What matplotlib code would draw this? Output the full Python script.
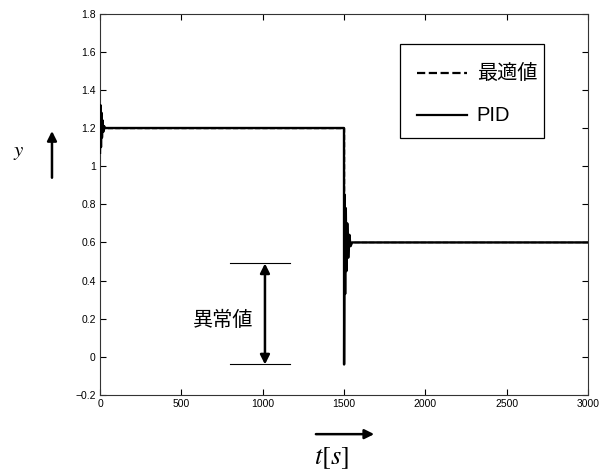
import numpy as np
from matplotlib import pyplot as plt
from matplotlib.patches import Rectangle, FancyArrowPatch

plt.rcParams['font.family'] = ['Liberation Sans', 'DejaVu Sans']
plt.rcParams['mathtext.fontset'] = 'stix'
JP = ['Liberation Sans', 'Noto Sans CJK JP', 'DejaVu Sans']

# PID response (transients near switching times)
t_pid = [0, 3, 6, 9, 12, 16, 20, 25, 30, 1500, 1500.5, 1503, 1507, 1511, 1515,
         1520, 1526, 1533, 1540, 1550, 3000]
y_pid = [1.07, 1.32, 1.10, 1.28, 1.15, 1.24, 1.18, 1.21, 1.20, 1.20, -0.04, 0.85,
         0.33, 0.78, 0.45, 0.70, 0.52, 0.64, 0.58, 0.60, 0.60]

# optimum (step)
t_opt = [0, 1500, 1500, 3000]
y_opt = [1.2, 1.2, 0.6, 0.6]

labels = ['最適値', 'PID']

xticks = [0, 500, 1000, 1500, 2000, 2500, 3000]
yticks = [-0.2, 0, 0.2, 0.4, 0.6, 0.8, 1, 1.2, 1.4, 1.6, 1.8]
ytick_labels = ['\u22120.2', '0', '0.2', '0.4', '0.6', '0.8', '1', '1.2', '1.4', '1.6', '1.8']

# anomaly annotation
anom_lo, anom_hi = -0.04, 0.49
anom_x0, anom_x1, anom_xa = 800, 1170, 1014

fig = plt.figure(figsize=(6.08, 4.75), dpi=100)
ax = fig.add_axes([0.1645, 0.1684, 0.8026, 0.803])

ax.plot(t_opt, y_opt, '--', color='black', lw=1.0, zorder=2)
ax.plot(t_pid, y_pid, '-', color='black', lw=1.7, zorder=3)

ax.set_xlim(0, 3000)
ax.set_ylim(-0.2, 1.8)
ax.set_xticks(xticks)
ax.set_yticks(yticks)
ax.set_yticklabels(ytick_labels)
ax.tick_params(direction='in', length=4, labelsize=7.5, top=True, right=True, pad=3)
for s in ax.spines.values():
    s.set_color('#333333')
    s.set_linewidth(0.8)

# annotation lines + double arrow
ax.plot([anom_x0, anom_x1], [anom_hi, anom_hi], color='black', lw=0.8)
ax.plot([anom_x0, anom_x1], [anom_lo, anom_lo], color='black', lw=0.8)
ax.annotate('', xy=(anom_xa, anom_hi), xytext=(anom_xa, anom_lo),
            arrowprops=dict(arrowstyle='<|-|>', color='black', lw=1.8,
                            mutation_scale=14, shrinkA=0, shrinkB=0))
ax.text(755, 0.19, '異常値', fontsize=14.5, ha='center', va='center', family=JP)

# legend drawn by hand (axes fraction)
ax.add_patch(Rectangle((0.615, 0.674), 0.295, 0.246, transform=ax.transAxes,
                       fill=True, facecolor='white', edgecolor='black', lw=0.9, zorder=5))
for yy, ls, lab in [(0.844, '--', labels[0]), (0.734, '-', labels[1])]:
    ax.plot([0.650, 0.752], [yy, yy], ls, color='black', lw=1.6,
            transform=ax.transAxes, zorder=6)
    ax.text(0.772, yy, lab, fontsize=14.5, va='center', ha='left', family=JP,
            transform=ax.transAxes, zorder=6)

# axis labels with arrows (figure coords)
fig.text(0.03, 0.68, '$y$', fontsize=15, ha='center', va='center')
fig.patches.append(FancyArrowPatch(
    (0.0855, 0.62), (0.0855, 0.73), transform=fig.transFigure,
    arrowstyle='-|>', mutation_scale=14, color='black', lw=1.8))
fig.text(0.545, 0.035, r'$t\left[s\right]$', fontsize=19, ha='center', va='center')
fig.patches.append(FancyArrowPatch(
    (0.515, 0.086), (0.62, 0.086), transform=fig.transFigure,
    arrowstyle='-|>', mutation_scale=14, color='black', lw=1.8))

fig.savefig('out.png', dpi=100)
